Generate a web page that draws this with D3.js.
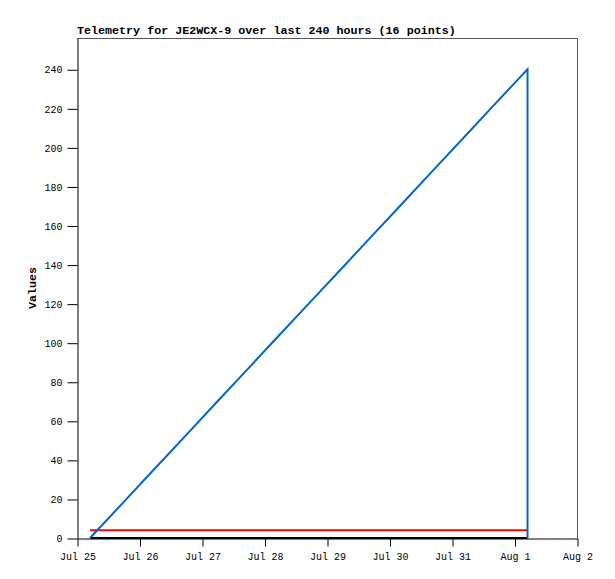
<!DOCTYPE html>
<html>
<head>
<meta charset="utf-8">
<script src="https://cdn.jsdelivr.net/npm/d3@7"></script>
<style>
  html, body { margin: 0; padding: 0; background: #fff; }
  svg { display: block; }
  text { font-family: "Liberation Mono", "DejaVu Sans Mono", monospace; }
</style>
</head>
<body>
<svg id="chart" width="615" height="579"></svg>
<script>
// ---- Data ----
const title = "Telemetry for JE2WCX-9 over last 240 hours (16 points)";
const yLabel = "Values";
const times = [
  "2023-07-25T05:00", "2023-07-25T17:00", "2023-07-26T05:00", "2023-07-26T17:00",
  "2023-07-27T05:00", "2023-07-27T17:00", "2023-07-28T05:00", "2023-07-28T17:00",
  "2023-07-29T05:00", "2023-07-29T17:00", "2023-07-30T05:00", "2023-07-30T17:00",
  "2023-07-31T05:00", "2023-07-31T17:00", "2023-08-01T05:00", "2023-08-01T05:00"
];
const blueValues  = [0, 17.1, 34.3, 51.4, 68.6, 85.7, 102.9, 120, 137.1, 154.3, 171.4, 188.6, 205.7, 222.9, 240, 0];
const redValues   = [4, 4, 4, 4, 4, 4, 4, 4, 4, 4, 4, 4, 4, 4, 4, 4];
const blackValues = [0, 0, 0, 0, 0, 0, 0, 0, 0, 0, 0, 0, 0, 0, 0, 0];
const xDomain = ["2023-07-25T00:00", "2023-08-02T00:00"];
const yDomain = [0, 256];
const yTicks = [0, 20, 40, 60, 80, 100, 120, 140, 160, 180, 200, 220, 240];

(function () {
  const svg = d3.select("#chart");
  const mL = 77, mR = 577, mT = 38, mB = 538;
  const parse = d3.timeParse("%Y-%m-%dT%H:%M");
  const x = d3.scaleTime().domain(xDomain.map(parse)).range([mL, mR]);
  const y = d3.scaleLinear().domain(yDomain).range([mB, mT]);
  const font = '"Liberation Mono", "DejaVu Sans Mono", monospace';

  // frame (top and right)
  svg.append("path")
    .attr("d", `M${mL},${mT + 0.5}H${mR + 0.5}V${mB}`)
    .attr("fill", "none").attr("stroke", "#555").attr("stroke-width", 1);

  // x axis
  const xAxis = d3.axisBottom(x)
    .ticks(d3.timeDay.every(1))
    .tickFormat(d3.timeFormat("%b %-d"))
    .tickSize(8).tickSizeOuter(0).tickPadding(6);
  const gx = svg.append("g").attr("transform", `translate(0.5,${mB + 0.5})`).call(xAxis);
  gx.selectAll("text").attr("font-size", "10px").attr("fill", "#000").style("font-family", font);
  gx.selectAll("line, path").attr("stroke", "#000");

  // y axis
  const yAxis = d3.axisLeft(y).tickValues(yTicks).tickSize(10).tickSizeOuter(0).tickPadding(5);
  const gy = svg.append("g").attr("transform", `translate(${mL + 0.5},0.5)`).call(yAxis);
  gy.selectAll("text").attr("font-size", "10px").attr("fill", "#000").style("font-family", font);
  gy.selectAll("line, path").attr("stroke", "#000");

  // series
  const pts = v => times.map((t, i) => [parse(t), v[i]]);
  const line = d3.line().x(d => x(d[0])).y(d => y(d[1]));

  svg.append("path").datum(pts(blackValues)).attr("d", line)
    .attr("fill", "none").attr("stroke", "#000").attr("stroke-width", 2);
  svg.append("path").datum(pts(redValues)).attr("d", line)
    .attr("fill", "none").attr("stroke", "#ff0000").attr("stroke-width", 2);
  svg.append("path").datum(pts(blueValues)).attr("d", line)
    .attr("fill", "none").attr("stroke", "#0066cc").attr("stroke-width", 2);

  // title
  svg.append("text").attr("x", mL).attr("y", 34)
    .attr("font-size", "11.7px").attr("font-weight", "bold").attr("fill", "#000")
    .text(title);

  // y label
  svg.append("text")
    .attr("transform", `translate(36,${(mT + mB) / 2}) rotate(-90)`)
    .attr("text-anchor", "middle")
    .attr("font-size", "11.7px").attr("font-weight", "bold").attr("fill", "#000")
    .text(yLabel);
})();
</script>
</body>
</html>
